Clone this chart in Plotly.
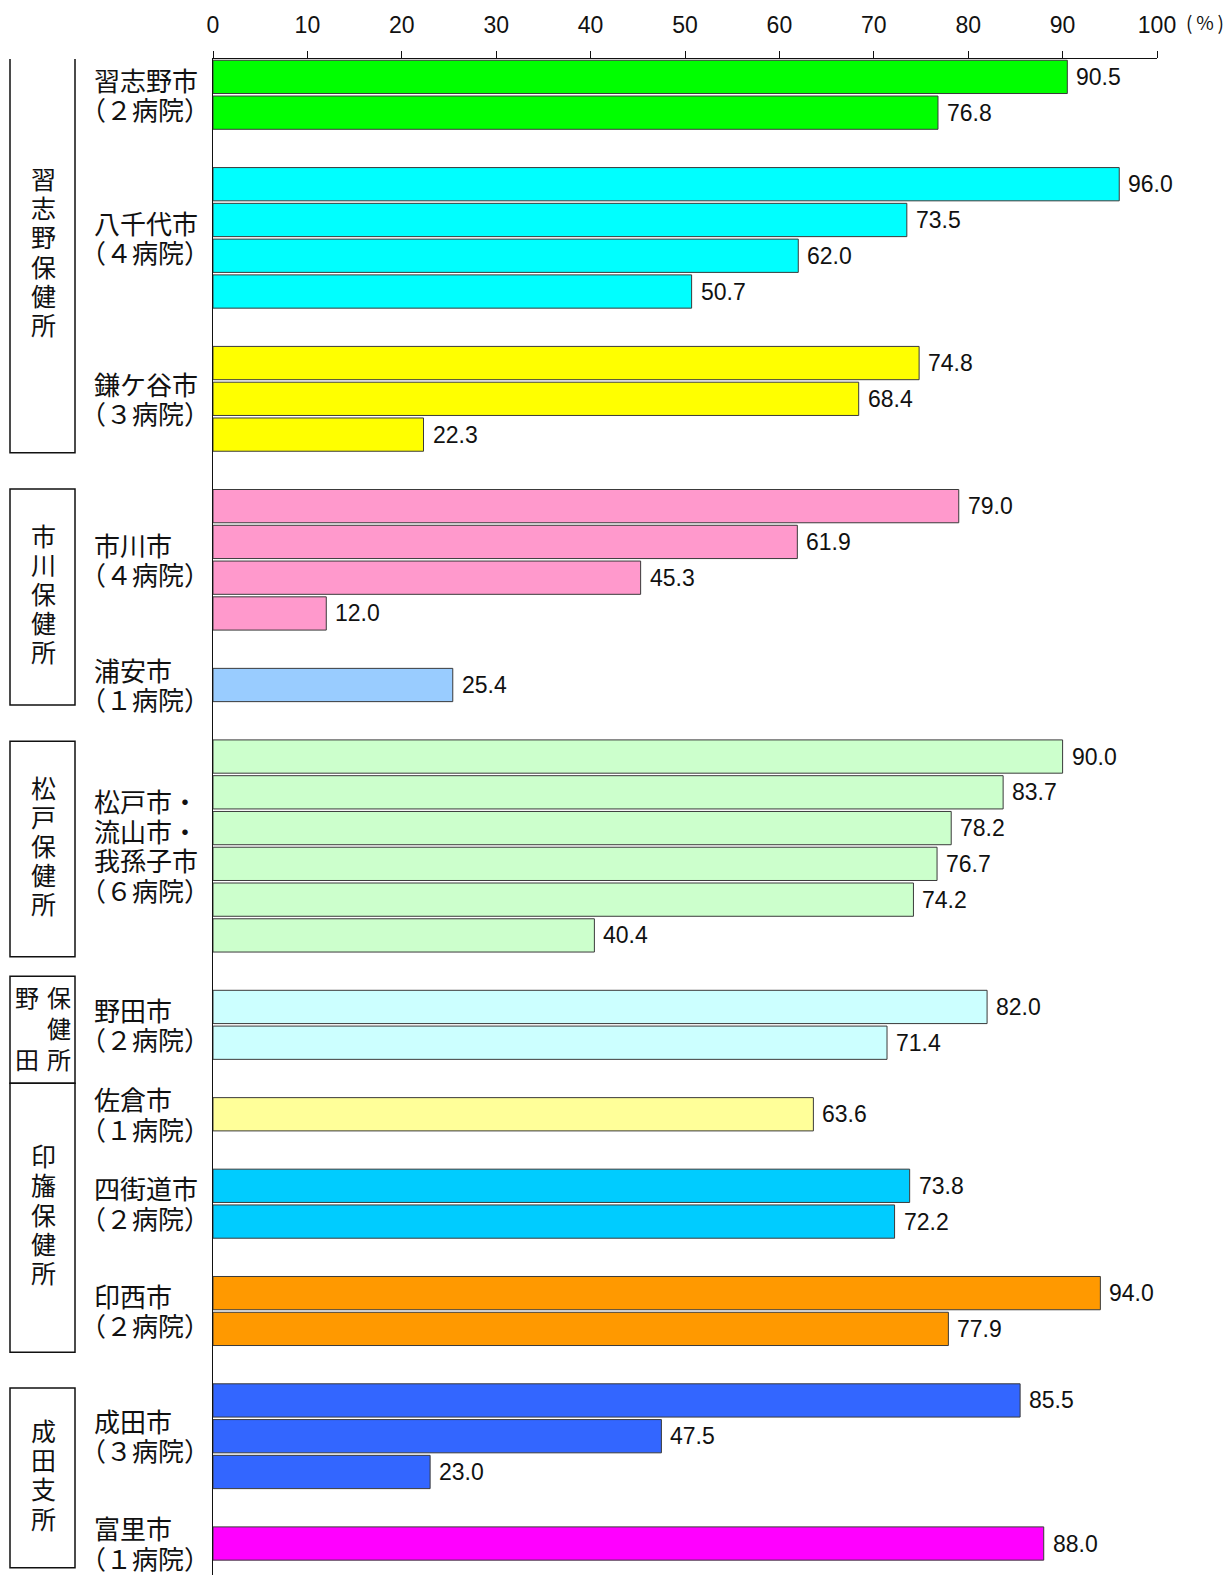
import plotly.graph_objects as go

# ---- data ----
city_lines = [
    ["習志野市", "（２病院）"],
    ["八千代市", "（４病院）"],
    ["鎌ケ谷市", "（３病院）"],
    ["市川市", "（４病院）"],
    ["浦安市", "（１病院）"],
    ["松戸市・", "流山市・", "我孫子市", "（６病院）"],
    ["野田市", "（２病院）"],
    ["佐倉市", "（１病院）"],
    ["四街道市", "（２病院）"],
    ["印西市", "（２病院）"],
    ["成田市", "（３病院）"],
    ["富里市", "（１病院）"],
]
city_values = [
    [90.5, 76.8],
    [96.0, 73.5, 62.0, 50.7],
    [74.8, 68.4, 22.3],
    [79.0, 61.9, 45.3, 12.0],
    [25.4],
    [90.0, 83.7, 78.2, 76.7, 74.2, 40.4],
    [82.0, 71.4],
    [63.6],
    [73.8, 72.2],
    [94.0, 77.9],
    [85.5, 47.5, 23.0],
    [88.0],
]
city_colors = ["#00FF00", "#00FFFF", "#FFFF00", "#FF99CC", "#99CCFF", "#CCFFCC",
               "#CCFFFF", "#FFFF99", "#00CCFF", "#FF9900", "#3366FF", "#FF00FF"]
x_ticks = [0, 10, 20, 30, 40, 50, 60, 70, 80, 90, 100]

# health-centre boxes: (label, top slot edge, bottom slot edge)
boxes = [
    ("習志野保健所", -0.55, 10.51),
    ("市川保健所", 11.52, 17.56),
    ("松戸保健所", 18.57, 24.60),
    ("野田保健所", 25.14, 28.13),
    ("印旛保健所", 28.13, 35.65),
    ("成田支所", 36.65, 41.68),
]

JP = "Noto Sans CJK JP"
NUM = "Liberation Sans"

fig = go.Figure()
annotations = []
shapes = []

LEFT = 213
PW = 944.0
def px2paper(px):
    return (px - LEFT) / PW

LABEL_SIZE = 26
cursor = 0
for lines, vals, col in zip(city_lines, city_values, city_colors):
    slots = list(range(cursor, cursor + len(vals)))
    fig.add_trace(go.Bar(
        x=vals, y=slots, orientation="h", width=0.93,
        marker=dict(color=col, line=dict(color="#3a3a3a", width=1)),
        hoverinfo="x", showlegend=False,
    ))
    for v, s in zip(vals, slots):
        annotations.append(dict(
            x=v, y=s, xref="x", yref="y", text=f"{v:.1f}", showarrow=False,
            xanchor="left", yanchor="middle", xshift=7,
            font=dict(family=NUM, size=23, color="#111")))
    center = (slots[0] + slots[-1]) / 2
    n = len(lines)
    pitch = 29.5
    for i, ln in enumerate(lines):
        off = ((n - 1) / 2 - i) * pitch + 1
        xs = -14 if ln.startswith("（") else 0
        annotations.append(dict(
            x=px2paper(92), y=center, xref="paper", yref="y", text=ln,
            showarrow=False, xanchor="left", yanchor="middle", yshift=off,
            xshift=xs, height=29, valign="middle",
            font=dict(family=JP, size=LABEL_SIZE, color="#111")))
    cursor += len(vals) + 1

# group boxes and vertical text
x0, x1 = px2paper(10), px2paper(75)
for label, top, bot in boxes:
    shapes.append(dict(type="rect", xref="paper", yref="y", x0=x0, x1=x1,
                       y0=top, y1=bot, line=dict(color="#111", width=1.5),
                       fillcolor="rgba(0,0,0,0)"))
    center = (top + bot) / 2
    if label == "野田保健所":
        cols = [(px2paper(27), ["野", "", "田"]), (px2paper(59), ["保", "健", "所"])]
        for xc, chars in cols:
            for i, ch in enumerate(chars):
                if not ch:
                    continue
                annotations.append(dict(
                    x=xc, y=center, xref="paper", yref="y", text=ch, showarrow=False,
                    xanchor="center", yanchor="middle", yshift=(1 - i) * 31 + 2,
                    height=29, valign="middle",
                    font=dict(family=JP, size=24, color="#111")))
    else:
        n = len(label)
        for i, ch in enumerate(label):
            off = ((n - 1) / 2 - i) * 29.2 + 4
            annotations.append(dict(
                x=px2paper(43), y=center, xref="paper", yref="y", text=ch,
                showarrow=False, xanchor="center", yanchor="middle", yshift=off,
                height=28, valign="middle",
                font=dict(family=JP, size=25, color="#111")))

annotations.append(dict(
    x=px2paper(1205), y=1 + (59 - 22) / 1516.0, xref="paper", yref="paper",
    text="(\u2009%\u2009)", showarrow=False, xanchor="center", yanchor="middle",
    font=dict(family=JP, size=19, color="#111")))

fig.update_layout(
    width=1229, height=1575,
    margin=dict(l=213, r=72, t=59, b=0),
    plot_bgcolor="white", paper_bgcolor="white",
    barmode="overlay",
    annotations=annotations, shapes=shapes,
    xaxis=dict(side="top", range=[0, 100], tickvals=x_ticks,
               ticktext=[str(t) for t in x_ticks],
               showgrid=False, zeroline=False, showline=True, linecolor="#111",
               linewidth=1, ticks="outside", ticklen=7, tickcolor="#111",
               tickfont=dict(family=NUM, size=23, color="#111"),
               ticklabelstandoff=9),
    yaxis=dict(range=[41.88, -0.5], showgrid=False, zeroline=False,
               showline=True, linecolor="#111", linewidth=1,
               showticklabels=False, ticks=""),
)

fig.write_html("out.html")
